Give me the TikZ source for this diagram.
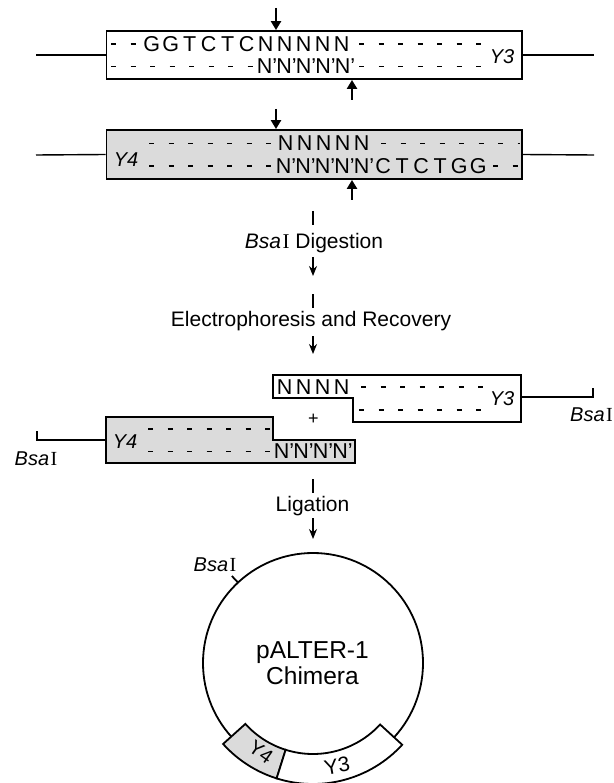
\documentclass[tikz,border=0pt]{standalone}
\usepackage{fontspec}
\setmainfont{Liberation Sans}
\newfontfamily\serifI{Liberation Serif}
\usetikzlibrary{arrows.meta,calc}
\newcommand\bsaname{\textit{Bsa}\kern1.5pt{\serifI I}}
\newcommand\dnacells[2]{\foreach \ch in {#2}{\makebox[#1][c]{\ch}}}
\begin{document}
\begin{tikzpicture}[x=1pt,y=-1pt,
  boxline/.style={line width=1.8pt},
  strand/.style={line width=1.4pt},
  dnarow/.style={inner sep=0pt, anchor=west, font=\fontsize{21.5}{23}\selectfont},
  ylab/.style={inner sep=0pt, font=\fontsize{20}{22}\selectfont\itshape},
  dsh/.style={line width=1.7pt, dash pattern=on 5pt off 14.5pt},
  cutarrow/.style={line width=2.6pt, -{Triangle[width=10pt,length=9pt]}},
  procarrow/.style={line width=1.3pt, -{Stealth[width=8pt,length=10pt]}},
  tickln/.style={line width=1.5pt},
  lbl/.style={inner sep=0pt, font=\fontsize{21}{24}\selectfont},
  grayfill/.style={fill=gray!28},
]
\useasboundingbox (0,0) rectangle (613,783);

% ---------- Box 1 (Y3) ----------
\node[draw, boxline, fill=white, minimum width=415.5pt, minimum height=48pt, inner sep=0pt] (box1) at (314.25,55) {};
\coordinate (l1) at (36,55);
\coordinate (r1) at (594,55);
\draw[strand] (l1) -- (box1.west);
\draw[strand] (box1.east) -- (r1);
\draw[dsh] (111,44) -- (137,44);
\node[dnarow] (seq1a) at (142,44) {\dnacells{19pt}{G,G,T,C,T,C,N,N,N,N,N}};
\draw[dsh] (359,44) -- (483,44);
\draw[dsh] (111,66.5) -- (254,66.5);
\node[dnarow] (seq1b) at (257,66.5) {\dnacells{19.5pt}{N',N',N',N',N'}};
\draw[dsh] (359,66.5) -- (483,66.5);
\node[ylab] (y3a) at (502,57) {Y3};
\coordinate (c1d) at (276,8);
\coordinate (c1u) at (352,100);
\draw[cutarrow] (c1d) -- (c1d |- box1.north);
\draw[cutarrow] (c1u) -- (c1u |- box1.south);

% ---------- Box 2 (Y4) ----------
\node[draw, boxline, grayfill, minimum width=415.5pt, minimum height=49pt, inner sep=0pt] (box2) at (314.25,154.5) {};
\coordinate (l2) at (36,155);
\coordinate (r2) at (594,155);
\draw[strand] (l2) -- (box2.west);
\draw[strand] (box2.east) -- (r2);
\node[ylab] (y4a) at (126,160) {Y4};
\draw[dsh] (149,143.5) -- (274,143.5);
\node[dnarow] (seq2a) at (276,143.5) {\dnacells{19pt}{N,N,N,N,N}};
\draw[dsh] (381,143.5) -- (520,143.5);
\draw[dsh] (149,166) -- (274,166);
\node[dnarow] (seq2b) at (276,166) {\dnacells{19.5pt}{N',N',N',N',N'}\dnacells{19pt}{C,T,C,T,G,G}};
\draw[dsh] (493,166) -- (520,166);
\coordinate (c2d) at (276,109);
\coordinate (c2u) at (352,200);
\draw[cutarrow] (c2d) -- (c2d |- box2.north);
\draw[cutarrow] (c2u) -- (c2u |- box2.south);

% ---------- process steps ----------
\coordinate (t1a) at (313,211);
\coordinate (t1b) at (313,225);
\draw[tickln] (t1a) -- (t1b);
\node[lbl] (dig) at (314,243) {\bsaname\ Digestion};
\coordinate (p1a) at (313,257);
\coordinate (p1b) at (313,276);
\draw[procarrow] (p1a) -- (p1b);

\coordinate (t2a) at (313,294);
\coordinate (t2b) at (313,308);
\draw[tickln] (t2a) -- (t2b);
\node[lbl] (elec) at (311,321) {Electrophoresis and Recovery};
\coordinate (p2a) at (313,336);
\coordinate (p2b) at (313,354);
\draw[procarrow] (p2a) -- (p2b);

% ---------- Y3 fragment ----------
\draw[boxline, fill=white] (272.7,375) -- (521,375) -- (521,421.7) -- (353.3,421.7) -- (353.3,398.3) -- (272.7,398.3) -- cycle;
\node[dnarow] (seq3a) at (275,386.7) {\dnacells{19pt}{N,N,N,N}};
\draw[dsh] (361,386.7) -- (483,386.7);
\draw[dsh] (359,410) -- (483,410);
\node[ylab] (y3b) at (502,399) {Y3};
\coordinate (f3r) at (521,397);
\coordinate (f3c) at (593,397);
\coordinate (f3t) at (593,388);
\draw[strand] (f3r) -- (f3c) -- (f3t);
\node[lbl, anchor=east, font=\fontsize{20}{22}\selectfont] (bsa1) at (613,414.5) {\bsaname};

\node[inner sep=0pt, font=\fontsize{18}{20}\selectfont] (plus) at (313.3,419.3) {+};

% ---------- Y4 fragment ----------
\draw[boxline, grayfill] (106,417) -- (272.7,417) -- (272.7,440) -- (355,440) -- (355,463) -- (106,463) -- cycle;
\node[ylab] (y4b) at (125,442) {Y4};
\draw[dsh] (148,429) -- (271,429);
\draw[dsh] (148,451.5) -- (271,451.5);
\node[dnarow] (seq4b) at (274,451.5) {\dnacells{19.5pt}{N',N',N',N'}};
\coordinate (f4l) at (106,440);
\coordinate (f4c) at (37,440);
\coordinate (f4t) at (37,431);
\draw[strand] (f4l) -- (f4c) -- (f4t);
\node[lbl, font=\fontsize{20}{22}\selectfont] (bsa2) at (36,459) {\bsaname};

% ---------- ligation ----------
\coordinate (t3a) at (313,479);
\coordinate (t3b) at (313,493);
\draw[tickln] (t3a) -- (t3b);
\node[lbl] (lig) at (312.5,506) {Ligation};
\coordinate (p3a) at (313,518);
\coordinate (p3b) at (313,539);
\draw[procarrow] (p3a) -- (p3b);

% ---------- plasmid ----------
\coordinate (cc) at (313,663);
\draw[boxline] (cc) circle[radius=110pt];
\draw[boxline] ($(cc)+(227:110)$) -- ($(cc)+(227:119)$);
\node[lbl, font=\fontsize{20}{22}\selectfont] (bsa3) at (215,565) {\bsaname};
\node[inner sep=0pt, font=\fontsize{24.5}{28}\selectfont, align=center] (pname) at (312.5,663) {pALTER-1\\[-2pt]Chimera};

\draw[boxline, grayfill] ($(cc)+(138:91)$) -- ($(cc)+(138:121)$) arc[start angle=138, end angle=107.5, radius=121] -- ($(cc)+(107.5:91)$) arc[start angle=107.5, end angle=138, radius=91] -- cycle;
\draw[boxline, fill=white] ($(cc)+(107.5:91)$) -- ($(cc)+(107.5:121)$) arc[start angle=107.5, end angle=42.5, radius=121] -- ($(cc)+(42.5:91)$) arc[start angle=42.5, end angle=107.5, radius=91] -- cycle;
\node[inner sep=0pt, font=\fontsize{20}{22}\selectfont, rotate=-35] (y4c) at (261,752) {Y4};
\node[inner sep=0pt, font=\fontsize{21}{23}\selectfont, rotate=10] (y3c) at (337,766) {Y3};
\end{tikzpicture}
\end{document}
